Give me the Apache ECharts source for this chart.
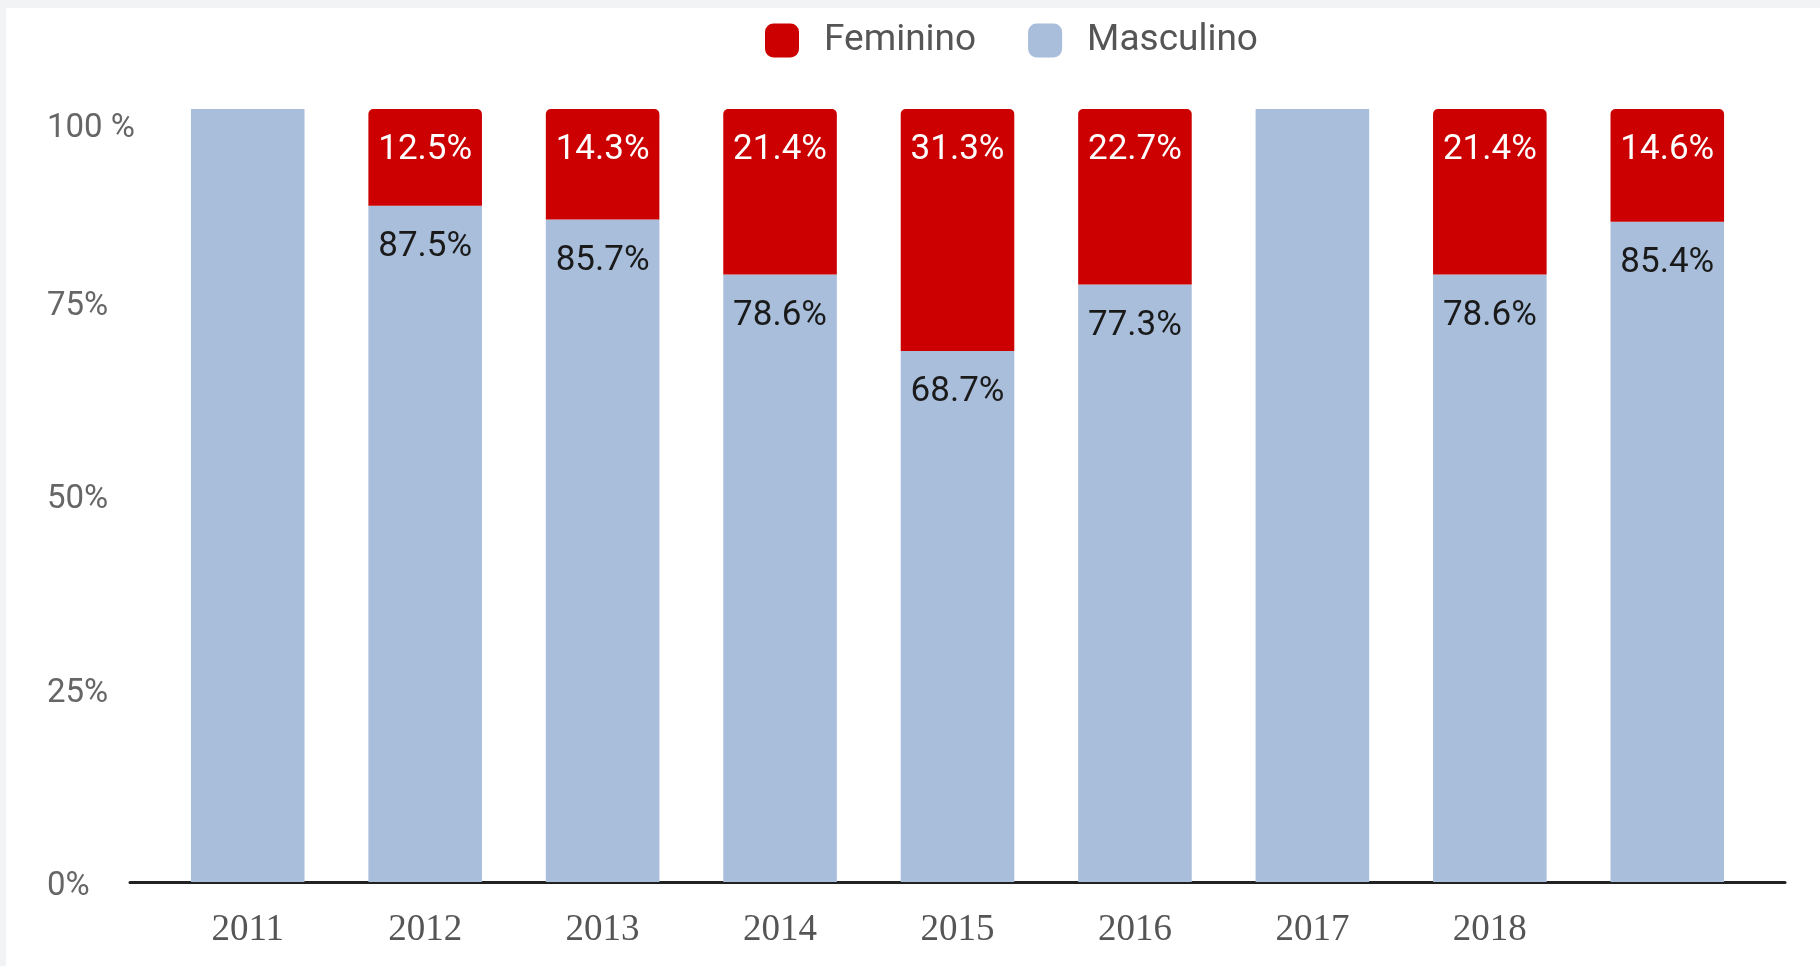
<!DOCTYPE html>
<html>
<head>
<meta charset="utf-8">
<script src="https://cdn.jsdelivr.net/npm/echarts@6/dist/echarts.min.js"></script>
<style>
  body { margin: 0; background: #f1f3f4; }
  #chart { position: absolute; left: 6px; top: 8px; width: 1814px; height: 958px; background: #fff; }
</style>
</head>
<body>
<div id="chart"></div>
<script>
const anos = ["2011", "2012", "2013", "2014", "2015", "2016", "2017", "2018", ""];
const feminino = [0, 12.5, 14.3, 21.4, 31.3, 22.7, 0, 21.4, 14.6];
const masculino = [100, 87.5, 85.7, 78.6, 68.7, 77.3, 100, 78.6, 85.4];
const yTicks = [0, 25, 50, 75, 100];

document.addEventListener("DOMContentLoaded", function () {
    let chart = echarts.init(document.getElementById("chart"));

    // rótulo só quando a fatia não é 0 nem 100
    function rotulo(p) {
        if (p.value <= 0 || p.value >= 100) return "";
        return p.value.toFixed(1) + "%";
    }

    let option = {
        animation: false,
        textStyle: { fontFamily: "Roboto" },
        legend: {
            data: ["Feminino", "Masculino"],
            left: 754,
            top: 9,
            icon: "roundRect",
            itemWidth: 34,
            itemHeight: 34,
            itemGap: 52,
            textStyle: { fontSize: 37, color: "#555", padding: [0, 0, 0, 20] }
        },
        grid: [
            { left: 153, right: 64, top: 101, bottom: 84 },
            { left: 124, right: 35, top: 101, bottom: 84 }
        ],
        xAxis: [
            {
                type: "category",
                data: anos,
                gridIndex: 0,
                axisLine: { show: false },
                axisTick: { show: false },
                axisLabel: {
                    fontFamily: "Liberation Serif",
                    fontSize: 37,
                    color: "#555",
                    margin: 30,
                    interval: 0
                }
            },
            {
                type: "value",
                gridIndex: 1,
                min: 0,
                max: 1,
                axisLine: { show: true, lineStyle: { color: "#222", width: 3 } },
                axisTick: { show: false },
                axisLabel: { show: false },
                splitLine: { show: false }
            }
        ],
        yAxis: [
            {
                type: "value",
                gridIndex: 0,
                min: yTicks[0],
                max: yTicks[yTicks.length - 1],
                interval: 25,
                axisLine: { show: false },
                axisTick: { show: false },
                splitLine: { show: false },
                axisLabel: {
                    align: "left",
                    margin: 112,
                    formatter: function (v) {
                        return v === 100 ? "{top|100 %}" : "{n|" + v + "%}";
                    },
                    rich: {
                        n: { fontSize: 33, color: "#666", padding: [9, 0, 0, 0] },
                        top: { fontSize: 33, color: "#666", padding: [40, 0, 0, 0] }
                    }
                }
            },
            {
                type: "value",
                gridIndex: 1,
                show: false
            }
        ],
        series: [
            {
                name: "Masculino",
                type: "bar",
                stack: "total",
                data: masculino,
                barWidth: "64%",
                itemStyle: { color: "#a8bedb" },
                label: {
                    show: true,
                    position: "insideTop",
                    distance: 24,
                    fontSize: 35,
                    color: "#1a1a1a",
                    formatter: rotulo
                }
            },
            {
                name: "Feminino",
                type: "bar",
                stack: "total",
                data: feminino,
                barWidth: "64%",
                itemStyle: { color: "#cc0000", borderRadius: [5, 5, 0, 0] },
                label: {
                    show: true,
                    position: "insideTop",
                    distance: 24,
                    fontSize: 35,
                    color: "#fff",
                    formatter: rotulo
                }
            }
        ]
    };
    chart.setOption(option);
});
</script>
</body>
</html>
